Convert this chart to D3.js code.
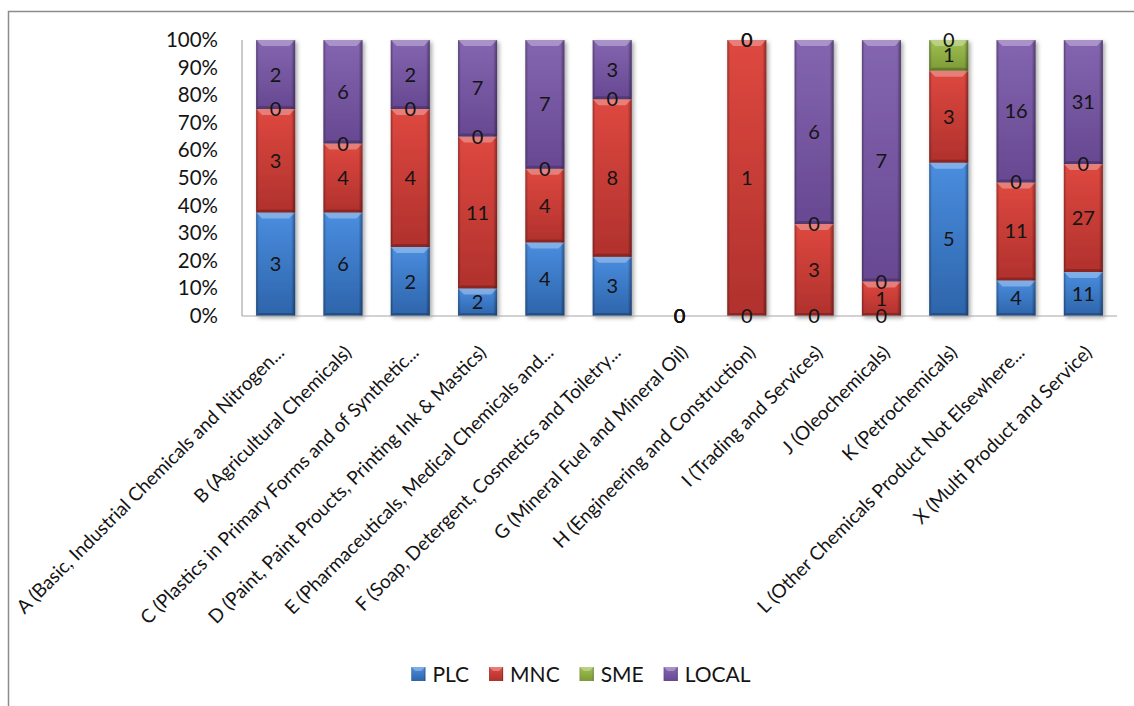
<!DOCTYPE html>
<html>
<head>
<meta charset="utf-8">
<script src="https://cdn.jsdelivr.net/npm/d3@7"></script>
<style>
  html, body { margin: 0; padding: 0; background: #ffffff; }
  svg { display: block; }
  text { font-family: Lato, "Open Sans", "DejaVu Sans", sans-serif; fill: #141414; }
</style>
</head>
<body>
<div id="chart"></div>
<script>
const categories = [
  "A (Basic, Industrial Chemicals and Nitrogen...",
  "B (Agricultural Chemicals)",
  "C (Plastics in Primary Forms and of Synthetic...",
  "D (Paint, Paint Proucts, Printing Ink & Mastics)",
  "E (Pharmaceuticals, Medical Chemicals and...",
  "F (Soap, Detergent, Cosmetics and Toiletry...",
  "G (Mineral Fuel and Mineral Oil)",
  "H (Engineering and Construction)",
  "I (Trading and Services)",
  "J (Oleochemicals)",
  "K (Petrochemicals)",
  "L (Other Chemicals Product Not Elsewhere...",
  "X (Multi Product and Service)"
];
const seriesNames = ["PLC", "MNC", "SME", "LOCAL"];
const plc   = [3, 6, 2, 2, 4, 3, 0, 0, 0, 0, 5, 4, 11];
const mnc   = [3, 4, 4, 11, 4, 8, 0, 1, 3, 1, 3, 11, 27];
const sme   = [0, 0, 0, 0, 0, 0, 0, 0, 0, 0, 1, 0, 0];
const local = [2, 6, 2, 7, 7, 3, 0, 0, 6, 7, 0, 16, 31];
const yTicks = [0, 0.1, 0.2, 0.3, 0.4, 0.5, 0.6, 0.7, 0.8, 0.9, 1];

const W = 1134, H = 706;
const plot = { left: 242, right: 1117, top: 40, bottom: 316 };

const colors = {
  PLC:   { top: "#4a8ddf", bot: "#2d64aa" },
  MNC:   { top: "#de4840", bot: "#b0312d" },
  SME:   { top: "#9fc052", bot: "#7c9a36" },
  LOCAL: { top: "#8465b0", bot: "#674891" }
};

const rows = categories.map((c, i) => ({
  cat: c, PLC: plc[i], MNC: mnc[i], SME: sme[i], LOCAL: local[i]
}));

const stacked = d3.stack().keys(seriesNames).offset(d3.stackOffsetExpand)(rows);

const svg = d3.select("#chart").append("svg").attr("width", W).attr("height", H);
const defs = svg.append("defs");

seriesNames.forEach(k => {
  const g = defs.append("linearGradient").attr("id", "grad-" + k)
    .attr("x1", 0).attr("y1", 0).attr("x2", 0).attr("y2", 1);
  g.append("stop").attr("offset", "0%").attr("stop-color", colors[k].top);
  g.append("stop").attr("offset", "100%").attr("stop-color", colors[k].bot);
});
const side = defs.append("linearGradient").attr("id", "side")
  .attr("x1", 0).attr("y1", 0).attr("x2", 1).attr("y2", 0);
[[0, 0.32], [0.07, 0.0], [0.9, 0.0], [1, 0.4]].forEach(([o, a]) =>
  side.append("stop").attr("offset", o).attr("stop-color", "#000").attr("stop-opacity", a));

const shadow = defs.append("filter").attr("id", "shadow")
  .attr("x", "-20%").attr("y", "-5%").attr("width", "150%").attr("height", "115%");
shadow.append("feDropShadow").attr("dx", 2).attr("dy", 2).attr("stdDeviation", 2)
  .attr("flood-color", "#000").attr("flood-opacity", 0.35);

// outer border (cropped on right and bottom)
svg.append("rect").attr("x", 8.5).attr("y", 11.5).attr("width", W + 20).attr("height", H + 20)
  .attr("fill", "none").attr("stroke", "#8c8c8c").attr("stroke-width", 1.5);

const x = d3.scaleBand().domain(categories).range([plot.left, plot.right])
  .paddingInner(0.42).paddingOuter(0.21);
const y = d3.scaleLinear().domain([0, 1]).range([plot.bottom, plot.top]);

// bars
const barsG = svg.append("g").attr("filter", "url(#shadow)");
stacked.forEach(s => {
  const key = s.key;
  const g = barsG.append("g");
  s.forEach((d, i) => {
    const cat = categories[i];
    const x0 = x(cat), bw = x.bandwidth();
    const yTop = y(d[1]), yBot = y(d[0]);
    const h = yBot - yTop;
    if (h <= 0.01) return;
    g.append("rect").attr("x", x0).attr("y", yTop).attr("width", bw).attr("height", h)
      .attr("fill", `url(#grad-${key})`);
    g.append("rect").attr("x", x0).attr("y", yTop).attr("width", bw).attr("height", h)
      .attr("fill", "url(#side)");
    const tb = Math.min(6, h / 2);
    g.append("polygon")
      .attr("points", [[x0, yTop], [x0 + bw, yTop], [x0 + bw - tb, yTop + tb], [x0 + tb, yTop + tb]].map(p => p.join(",")).join(" "))
      .attr("fill", "#ffffff").attr("fill-opacity", 0.3);
    const bb = Math.min(3, h / 2);
    g.append("polygon")
      .attr("points", [[x0 + bb, yBot - bb], [x0 + bw - bb, yBot - bb], [x0 + bw, yBot], [x0, yBot]].map(p => p.join(",")).join(" "))
      .attr("fill", "#000").attr("fill-opacity", 0.2);
  });
});

// axes lines
svg.append("line").attr("x1", plot.left).attr("x2", plot.left).attr("y1", plot.top).attr("y2", plot.bottom)
  .attr("stroke", "#a6a6a6").attr("stroke-width", 1.2);
svg.append("line").attr("x1", plot.left).attr("x2", plot.right).attr("y1", plot.bottom).attr("y2", plot.bottom)
  .attr("stroke", "#a6a6a6").attr("stroke-width", 1.2);

// y axis labels
const yAxis = d3.axisLeft(y).tickValues(yTicks).tickFormat(d3.format(".0%")).tickSize(0).tickPadding(24);
const yg = svg.append("g").attr("transform", `translate(${plot.left},0)`).call(yAxis);
yg.select(".domain").remove();
yg.selectAll("text").style("font-family", "Lato, 'Open Sans', sans-serif").style("font-size", "20.5px").attr("fill", "#141414");

// x axis labels (rotated)
const xAxis = d3.axisBottom(x).tickSize(0).tickPadding(0);
const xg = svg.append("g").attr("transform", `translate(0,${plot.bottom})`).call(xAxis);
xg.select(".domain").remove();
xg.selectAll(".tick text")
  .style("font-family", "Lato, 'Open Sans', sans-serif").style("font-size", "19px").attr("fill", "#141414")
  .attr("text-anchor", "end")
  .attr("x", 0).attr("y", 0).attr("dy", "0.35em")
  .attr("transform", "translate(5,33) rotate(-45)");

// data labels
const labelsG = svg.append("g");
stacked.forEach((s, si) => {
  const vals = [plc, mnc, sme, local][si];
  s.forEach((d, i) => {
    labelsG.append("text")
      .attr("x", x(categories[i]) + x.bandwidth() / 2)
      .attr("y", y((d[0] + d[1]) / 2))
      .attr("dy", "0.35em")
      .attr("text-anchor", "middle")
      .style("font-size", "20px")
      .text(vals[i]);
  });
});

// legend
const legend = svg.append("g");
let lx = 0;
seriesNames.forEach(k => {
  const it = legend.append("g");
  const sw = 14;
  it.append("rect").attr("x", 0).attr("y", -sw / 2).attr("width", sw).attr("height", sw)
    .attr("fill", `url(#grad-${k})`);
  it.append("rect").attr("x", 0).attr("y", -sw / 2).attr("width", sw).attr("height", sw)
    .attr("fill", "url(#side)");
  it.append("polygon").attr("points", `0,${-sw/2} ${sw},${-sw/2} ${sw-4},${-sw/2+4} 4,${-sw/2+4}`)
    .attr("fill", "#fff").attr("fill-opacity", 0.3);
  const t = it.append("text").attr("x", sw + 7).attr("dy", "0.36em").style("font-size", "21px").text(k);
  const tw = t.node().getComputedTextLength();
  it.attr("transform", `translate(${lx},0)`);
  lx += sw + 7 + tw + 20;
});
const totalW = lx - 20;
legend.attr("transform", `translate(${581 - totalW / 2},674)`);
</script>
</body>
</html>
